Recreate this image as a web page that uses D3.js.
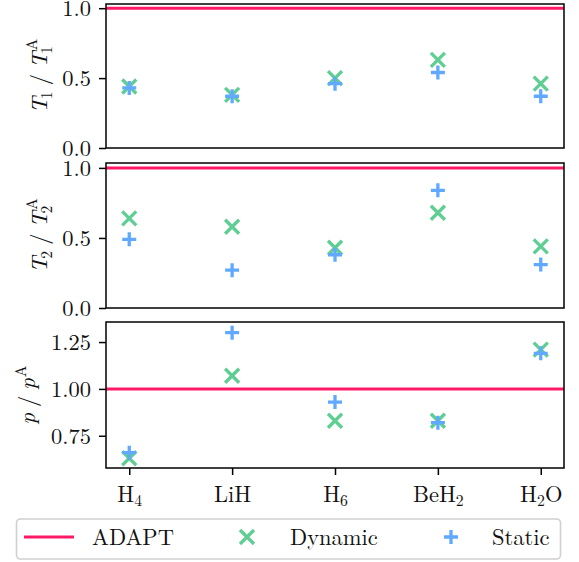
<!DOCTYPE html>
<html>
<head>
<meta charset="utf-8">
<script src="https://cdn.jsdelivr.net/npm/d3@7"></script>
<style>
  html, body { margin: 0; padding: 0; background: #fff; }
  svg { display: block; }
  text { font-family: "Latin Modern Roman", "Liberation Serif", serif; fill: #111; }
</style>
</head>
<body>
<div id="chart"></div>
<script>
// Molecules on the shared x axis
const molecules = ["H4", "LiH", "H6", "BeH2", "H2O"];
// How each molecule name is typeset: [text, isSubscript]
const moleculeParts = [
  [["H", false], ["4", true]],
  [["LiH", false]],
  [["H", false], ["6", true]],
  [["BeH", false], ["2", true]],
  [["H", false], ["2", true], ["O", false]]
];

// Ratios relative to ADAPT (reference level = 1)
const adaptLevel = 1.0;
const dynamicT1 = [0.44, 0.38, 0.50, 0.63, 0.46];
const staticT1  = [0.43, 0.37, 0.46, 0.54, 0.37];
const dynamicT2 = [0.64, 0.58, 0.43, 0.68, 0.44];
const staticT2  = [0.49, 0.27, 0.38, 0.84, 0.31];
const dynamicP  = [0.63, 1.07, 0.83, 0.83, 1.21];
const staticP   = [0.66, 1.30, 0.93, 0.82, 1.19];

// Tick values per panel
const ticksT1 = [0.0, 0.5, 1.0];
const ticksT2 = [0.0, 0.5, 1.0];
const ticksP  = [0.75, 1.00, 1.25];

const seriesNames = ["ADAPT", "Dynamic", "Static"];

const W = 579, H = 562;
const colors = { adapt: "#ff1a68", dynamic: "#5ece92", static: "#61a8ff" };
const FS = 22.5;

const svg = d3.select("#chart").append("svg")
  .attr("width", W).attr("height", H);

const left = 106, right = 564;
const x = d3.scaleLinear().domain([-0.226, 4.226]).range([left, right]);

const panels = [
  { dyn: dynamicT1, sta: staticT1, ticks: ticksT1, dom: [0, 1.03], top: 4, bottom: 148,
    fmt: d3.format(".1f"), label: "T1", labelX: 47 },
  { dyn: dynamicT2, sta: staticT2, ticks: ticksT2, dom: [0, 1.035], top: 163, bottom: 308,
    fmt: d3.format(".1f"), label: "T2", labelX: 47 },
  { dyn: dynamicP, sta: staticP, ticks: ticksP, dom: [0.578, 1.357], top: 322, bottom: 468,
    fmt: d3.format(".2f"), label: "p", labelX: 35 }
];

const xMark = s => `M${-s},${-s}L${s},${s}M${-s},${s}L${s},${-s}`;
const plusMark = s => `M${-s},0L${s},0M0,${-s}L0,${s}`;
const MS = 7, MW = 3.3;

// Draws a rotated axis label made of italic symbols, subscripts and a stacked sup/sub pair
function yLabel(cx, cy, kind) {
  const g = svg.append("g").attr("transform", `translate(${cx},${cy}) rotate(-90)`);
  const inner = g.append("g");
  let pos = 0;
  function put(txt, opts = {}) {
    const t = inner.append("text")
      .attr("x", pos + (opts.dx || 0))
      .attr("y", opts.dy || 0)
      .attr("font-size", opts.size || FS)
      .attr("font-style", opts.italic ? "italic" : "normal")
      .text(txt);
    const w = t.node().getComputedTextLength() + (opts.dx || 0);
    if (!opts.noAdvance) pos += w;
    return w;
  }
  const sub = FS * 0.7;
  const gap = 6;
  if (kind === "p") {
    put("p", { italic: true });
    pos += gap;
    put("/");
    pos += gap;
    put("p", { italic: true });
    put("A", { size: sub, dy: -9, dx: 1 });
  } else {
    const idx = kind === "T1" ? "1" : "2";
    put("T", { italic: true });
    put(idx, { size: sub, dy: 5, dx: -2 });
    pos += gap;
    put("/");
    pos += gap;
    put("T", { italic: true });
    const w1 = put("A", { size: sub, dy: -10, dx: 1.5, noAdvance: true });
    const w2 = put(idx, { size: sub, dy: 5, dx: -2, noAdvance: true });
    pos += Math.max(w1, w2);
  }
  inner.attr("transform", `translate(${-pos / 2},0)`);
}

panels.forEach((p, i) => {
  const y = d3.scaleLinear().domain(p.dom).range([p.bottom, p.top]);
  const g = svg.append("g");

  // ADAPT reference line
  g.append("line")
    .attr("x1", left).attr("x2", right)
    .attr("y1", y(adaptLevel)).attr("y2", y(adaptLevel))
    .attr("stroke", colors.adapt).attr("stroke-width", 3);

  // Dynamic (x markers)
  g.selectAll(".dyn").data(p.dyn).join("path")
    .attr("transform", (d, j) => `translate(${x(j)},${y(d)})`)
    .attr("d", xMark(MS))
    .attr("stroke", colors.dynamic).attr("stroke-width", MW).attr("fill", "none");

  // Static (+ markers)
  g.selectAll(".sta").data(p.sta).join("path")
    .attr("transform", (d, j) => `translate(${x(j)},${y(d)})`)
    .attr("d", plusMark(MS))
    .attr("stroke", colors.static).attr("stroke-width", MW).attr("fill", "none");

  // Frame
  g.append("rect")
    .attr("x", left).attr("y", p.top)
    .attr("width", right - left).attr("height", p.bottom - p.top)
    .attr("fill", "none").attr("stroke", "#000").attr("stroke-width", 1.5);

  // Y axis
  const ya = svg.append("g").attr("transform", `translate(${left},0)`)
    .call(d3.axisLeft(y).tickValues(p.ticks).tickFormat(p.fmt).tickSize(7).tickPadding(8));
  ya.attr("font-family", null);
  ya.select(".domain").remove();
  ya.selectAll(".tick line").attr("stroke", "#000").attr("stroke-width", 1.5);
  ya.selectAll(".tick text").attr("font-size", FS)
    .attr("fill", "#111").attr("dy", "0.34em");

  yLabel(p.labelX, (p.top + p.bottom) / 2, p.label);

  // X axis on the bottom panel only
  if (i === panels.length - 1) {
    const xa = svg.append("g").attr("transform", `translate(0,${p.bottom})`)
      .call(d3.axisBottom(x).tickValues(d3.range(molecules.length)).tickSize(7).tickFormat(""));
    xa.attr("font-family", null);
    xa.select(".domain").remove();
    xa.selectAll(".tick line").attr("stroke", "#000").attr("stroke-width", 1.5);
    xa.selectAll(".tick").each(function (d) {
      const t = d3.select(this).append("text")
        .attr("y", 34).attr("text-anchor", "middle")
        .attr("font-size", FS).attr("fill", "#111");
      let shifted = false;
      moleculeParts[d].forEach(([s, isSub]) => {
        const ts = t.append("tspan").text(s);
        if (isSub && !shifted) { ts.attr("dy", 4).attr("font-size", FS * 0.7); shifted = true; }
        else if (isSub) { ts.attr("font-size", FS * 0.7); }
        else if (!isSub && shifted) { ts.attr("dy", -4); shifted = false; }
      });
    });
  }
});

// Legend
const lg = svg.append("g");
lg.append("rect")
  .attr("x", 16.5).attr("y", 519).attr("width", 544).attr("height", 40)
  .attr("rx", 4).attr("fill", "#fff").attr("stroke", "#d0d0d0").attr("stroke-width", 1.6);
const ly = 537;
lg.append("line").attr("x1", 24).attr("x2", 74).attr("y1", ly).attr("y2", ly)
  .attr("stroke", colors.adapt).attr("stroke-width", 3);
lg.append("path").attr("transform", `translate(247,${ly})`).attr("d", xMark(MS))
  .attr("stroke", colors.dynamic).attr("stroke-width", MW).attr("fill", "none");
lg.append("path").attr("transform", `translate(451,${ly})`).attr("d", plusMark(MS))
  .attr("stroke", colors.static).attr("stroke-width", MW).attr("fill", "none");
const labelX = [92, 290, 492];
seriesNames.forEach((n, k) => {
  lg.append("text").attr("x", labelX[k]).attr("y", ly + 7.5)
    .attr("font-size", FS).text(n);
});
</script>
</body>
</html>
